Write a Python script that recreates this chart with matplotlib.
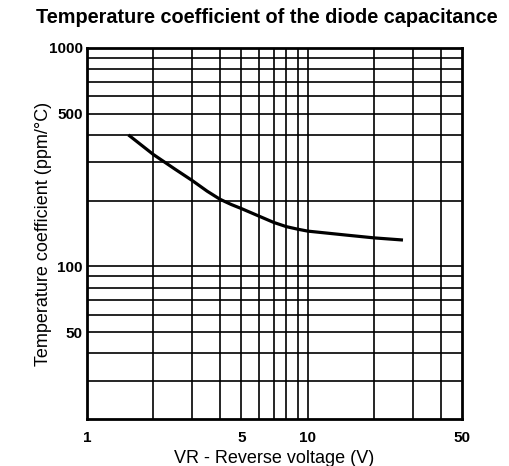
import numpy as np
import matplotlib
matplotlib.use('Agg')
import matplotlib.pyplot as plt
from matplotlib.ticker import FixedLocator, NullFormatter

plt.rcParams['font.family'] = ['Liberation Sans', 'DejaVu Sans']

# values
vr = [1.54, 2, 2.5, 3, 3.5, 4, 4.5, 5, 6, 7, 8, 9, 10, 15, 20, 27]
tc = [400, 325, 279, 247, 221, 203, 192, 184, 170, 159, 152, 148, 145, 139, 135, 132]

xticks = [1, 5, 10, 50]
yticks = [50, 100, 500, 1000]
xgrid = [2, 3, 4, 5, 6, 7, 8, 9, 10, 20, 30, 40]
ygrid = [30, 40, 50, 60, 70, 80, 90, 100, 200, 300, 400, 500, 600, 700, 800, 900]

fig = plt.figure(figsize=(5.1, 4.66), dpi=100)
ax = fig.add_axes([0.1706, 0.1009, 0.906 - 0.1706, 0.897 - 0.1009])
ax.set_xscale('log')
ax.set_yscale('log')
ax.set_xlim(1, 50)
ax.set_ylim(20, 1000)

for x in xgrid:
    ax.axvline(x, color='black', lw=1.2, zorder=1)
for y in ygrid:
    ax.axhline(y, color='black', lw=1.2, zorder=1)

ax.plot(vr, tc, color='black', lw=2.3, solid_capstyle='butt',
        solid_joinstyle='round', zorder=3)

ax.xaxis.set_major_locator(FixedLocator(xticks))
ax.yaxis.set_major_locator(FixedLocator(yticks))
ax.set_xticklabels([str(t) for t in xticks], fontweight='bold', fontsize=11)
ax.set_yticklabels([str(t) for t in yticks], fontweight='bold', fontsize=11)
ax.xaxis.set_minor_formatter(NullFormatter())
ax.yaxis.set_minor_formatter(NullFormatter())
ax.tick_params(axis='x', which='both', length=0, pad=9)
ax.tick_params(axis='y', which='both', length=0, pad=3)
for s in ax.spines.values():
    s.set_linewidth(2)

ax.set_xlabel('VR - Reverse voltage (V)', fontsize=13, labelpad=3)
ax.set_ylabel('Temperature coefficient (ppm/°C)', fontsize=13, labelpad=-2)
fig.text(0.523, 0.962, 'Temperature coefficient of the diode capacitance',
         ha='center', va='center', fontsize=14.3, fontweight='bold')

fig.savefig('out.png', dpi=100)
